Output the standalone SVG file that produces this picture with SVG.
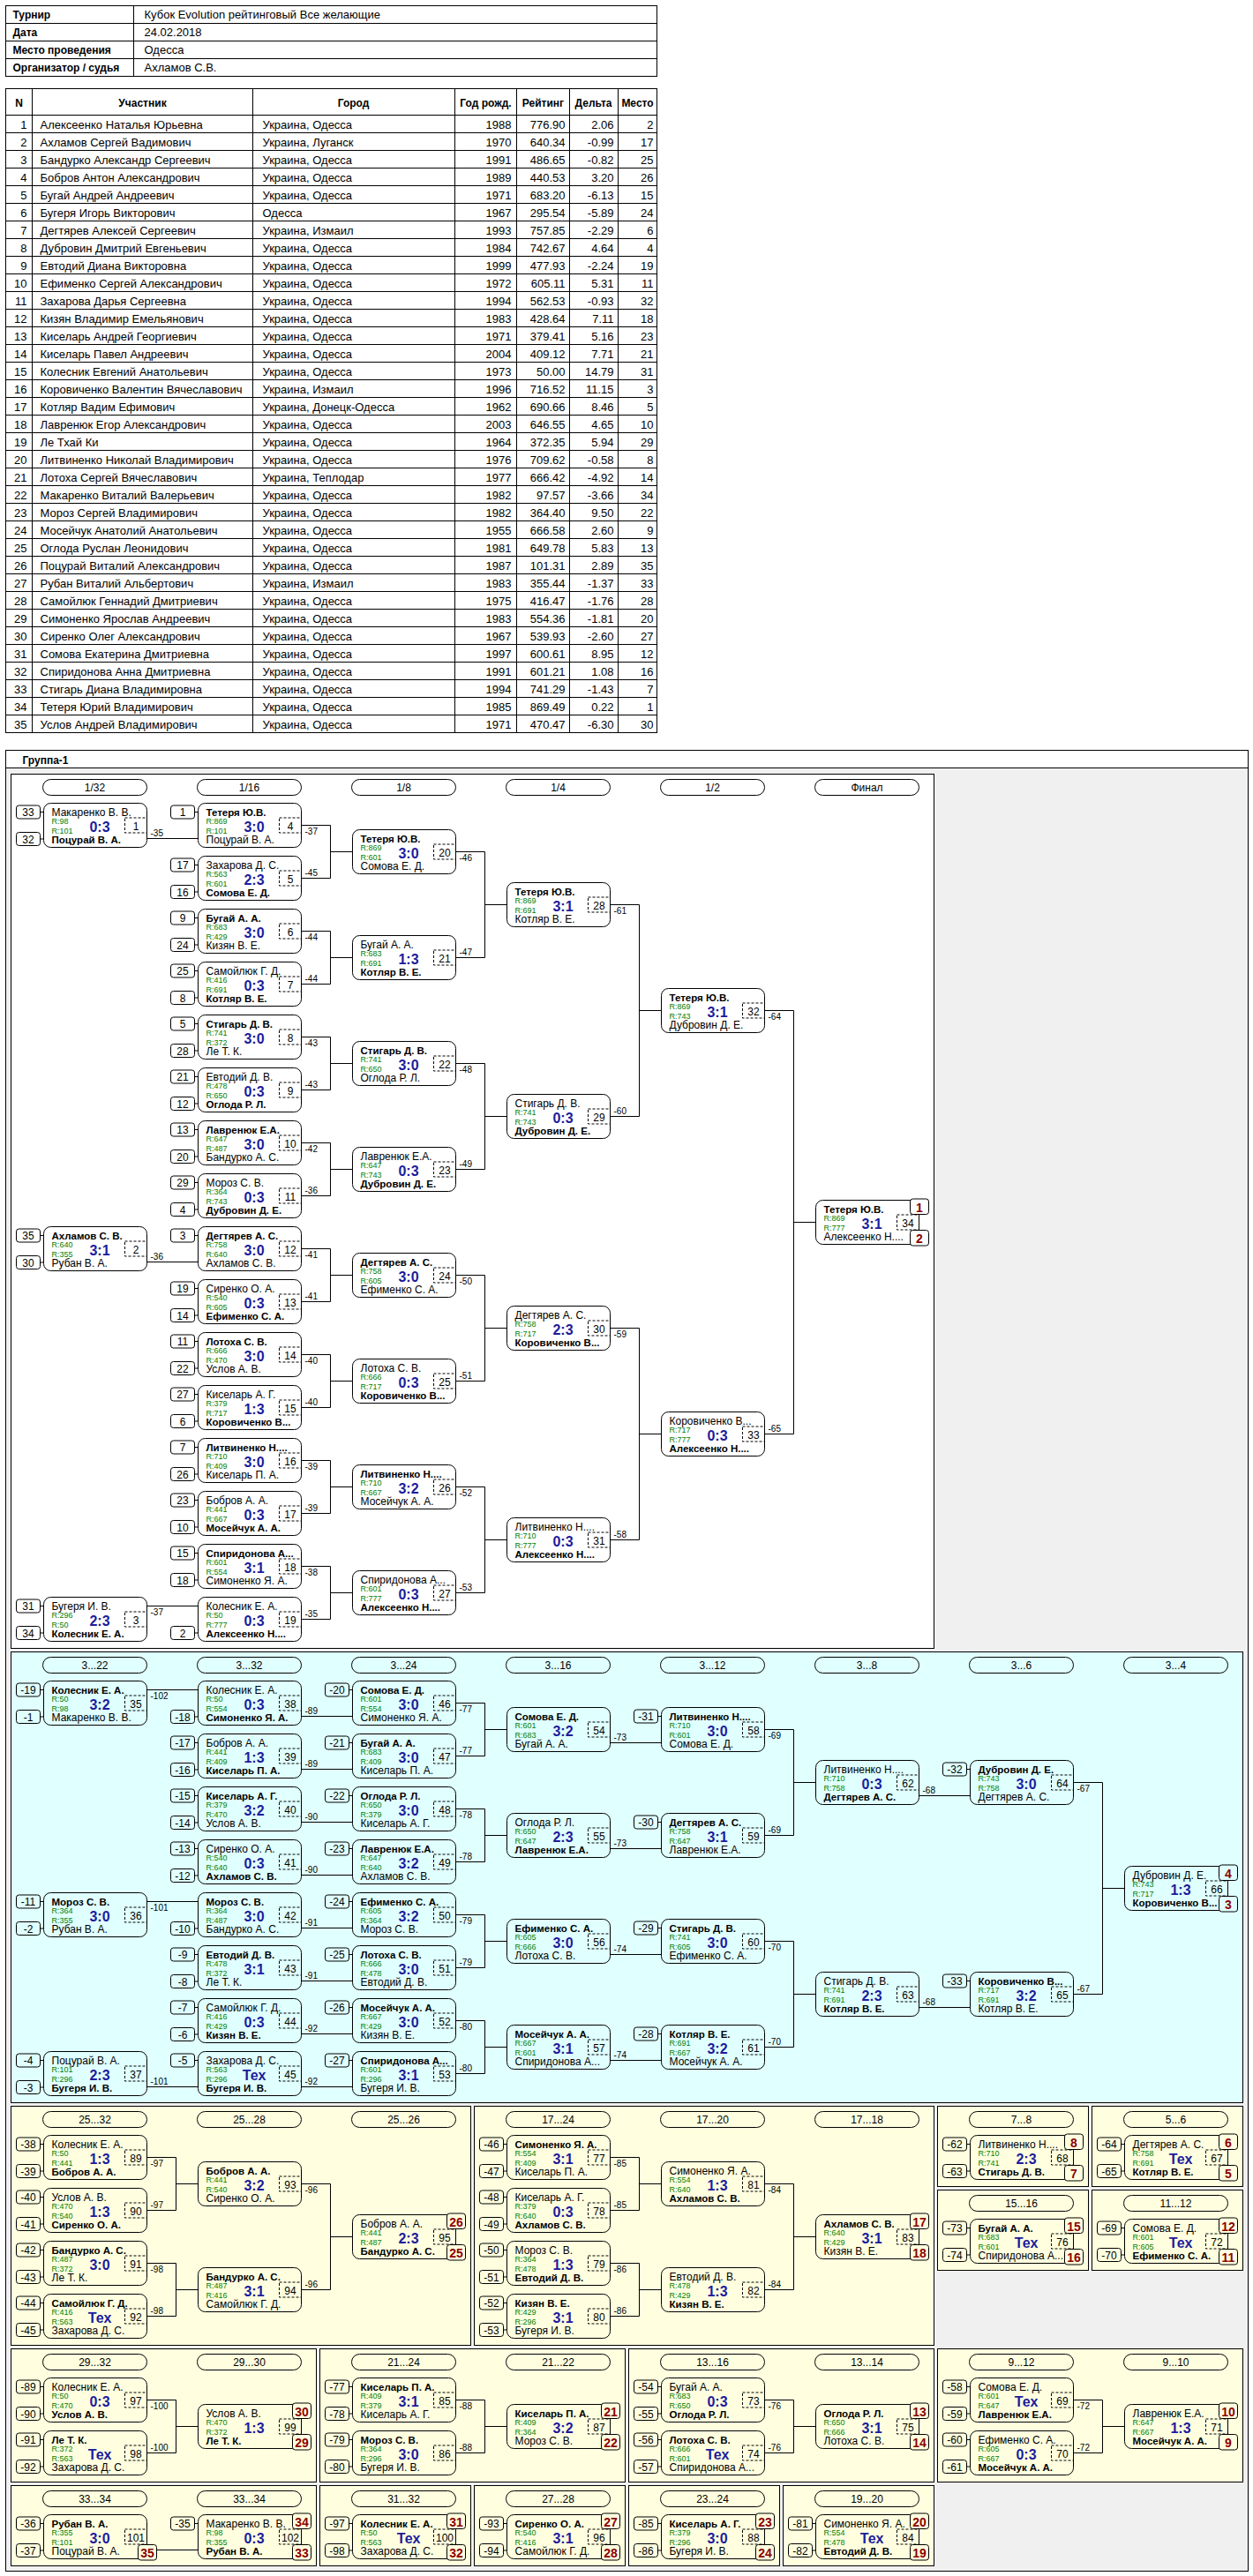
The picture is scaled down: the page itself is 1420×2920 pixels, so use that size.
<svg xmlns="http://www.w3.org/2000/svg" xmlns:xlink="http://www.w3.org/1999/xlink" width="1420" height="2920" viewBox="0 0 1420 2920">
<style>
.tl,.nd,.bx,.pl,.ln,.pn{fill:none;stroke:#000;stroke-width:1}
.mb{fill:none;stroke:#000;stroke-width:1;stroke-dasharray:3 2}
.pb{stroke:#000;stroke-width:1}
.cn path{fill:none;stroke:#000;stroke-width:1}
text{font-family:"Liberation Sans",Arial,sans-serif;font-size:12px;fill:#000}
.t{font-size:13px}
.tb{font-size:12px;font-weight:bold}
.e{text-anchor:end}
.c{text-anchor:middle}
.w{font-weight:bold;font-size:11.5px}
.g{font-size:9px;fill:#008000}
.s{font-size:16px;font-weight:bold;fill:#1c1c9c;text-anchor:middle}
.m,.k,.h{text-anchor:middle}
.l{font-size:10px}
.p{font-size:14px;font-weight:bold;fill:#8b0000;text-anchor:middle}
.pw{fill:#fff}.pc{fill:#e0ffff}.py{fill:#ffffe0}
</style>
<defs>
<g id="N"><rect class="nd" width="117" height="50" rx="8"/><rect class="mb" x="92" y="16.5" width="25" height="17"/></g>
<g id="S1"><rect class="bx" x="-31" y="2.5" width="27" height="15" rx="3"/><path class="ln" d="M-4 10H0"/></g>
<g id="S2"><rect class="bx" x="-31" y="33" width="27" height="15" rx="3"/><path class="ln" d="M-4 40.5H0"/></g>
<rect id="P1" class="pb" x="107" y="-1.5" width="21" height="17.5" rx="3"/>
<rect id="P2" class="pb" x="107" y="34" width="21" height="17.5" rx="3"/>
<rect id="PL" class="pl" x="-1" y="6" width="118" height="18" rx="9"/>
</defs>
<rect x="0" y="0" width="1420" height="2920" fill="#fff"/>
<g transform="translate(0.5,0.5)">
<g id="info">
<rect class="tl" x="6" y="6" width="738" height="80"/>
<path class="tl" d="M6 26H744M6 46H744M6 66H744M151 6V86"/>
<text class="tb" x="14" y="20.5">Турнир</text>
<text class="tb" x="14" y="40.5">Дата</text>
<text class="tb" x="14" y="60.5">Место проведения</text>
<text class="tb" x="14" y="80.5">Организатор / судья</text>
<text class="t" x="163" y="20.5">Кубок Evolution рейтинговый Все желающие</text>
<text class="t" x="163" y="40.5">24.02.2018</text>
<text class="t" x="163" y="60.5">Одесса</text>
<text class="t" x="163" y="80.5">Ахламов С.В.</text>
</g>
<g id="players">
<rect class="tl" x="6" y="100" width="738" height="730"/>
<path class="tl" d="M6 130H744M6 150H744M6 170H744M6 190H744M6 210H744M6 230H744M6 250H744M6 270H744M6 290H744M6 310H744M6 330H744M6 350H744M6 370H744M6 390H744M6 410H744M6 430H744M6 450H744M6 470H744M6 490H744M6 510H744M6 530H744M6 550H744M6 570H744M6 590H744M6 610H744M6 630H744M6 650H744M6 670H744M6 690H744M6 710H744M6 730H744M6 750H744M6 770H744M6 790H744M6 810H744M36 100V830M286 100V830M515 100V830M585 100V830M645 100V830M700 100V830"/>
<text class="tb c" x="21" y="120">N</text>
<text class="tb c" x="161" y="120">Участник</text>
<text class="tb c" x="400" y="120">Город</text>
<text class="tb c" x="550" y="120">Год рожд.</text>
<text class="tb c" x="615" y="120">Рейтинг</text>
<text class="tb c" x="672" y="120">Дельта</text>
<text class="tb c" x="722" y="120">Место</text>
<text class="t e"><tspan x="30" y="145.5">1</tspan><tspan x="30" dy="20">2</tspan><tspan x="30" dy="20">3</tspan><tspan x="30" dy="20">4</tspan><tspan x="30" dy="20">5</tspan><tspan x="30" dy="20">6</tspan><tspan x="30" dy="20">7</tspan><tspan x="30" dy="20">8</tspan><tspan x="30" dy="20">9</tspan><tspan x="30" dy="20">10</tspan><tspan x="30" dy="20">11</tspan><tspan x="30" dy="20">12</tspan><tspan x="30" dy="20">13</tspan><tspan x="30" dy="20">14</tspan><tspan x="30" dy="20">15</tspan><tspan x="30" dy="20">16</tspan><tspan x="30" dy="20">17</tspan><tspan x="30" dy="20">18</tspan><tspan x="30" dy="20">19</tspan><tspan x="30" dy="20">20</tspan><tspan x="30" dy="20">21</tspan><tspan x="30" dy="20">22</tspan><tspan x="30" dy="20">23</tspan><tspan x="30" dy="20">24</tspan><tspan x="30" dy="20">25</tspan><tspan x="30" dy="20">26</tspan><tspan x="30" dy="20">27</tspan><tspan x="30" dy="20">28</tspan><tspan x="30" dy="20">29</tspan><tspan x="30" dy="20">30</tspan><tspan x="30" dy="20">31</tspan><tspan x="30" dy="20">32</tspan><tspan x="30" dy="20">33</tspan><tspan x="30" dy="20">34</tspan><tspan x="30" dy="20">35</tspan></text>
<text class="t"><tspan x="45" y="145.5">Алексеенко Наталья Юрьевна</tspan><tspan x="45" dy="20">Ахламов Сергей Вадимович</tspan><tspan x="45" dy="20">Бандурко Александр Сергеевич</tspan><tspan x="45" dy="20">Бобров Антон Александрович</tspan><tspan x="45" dy="20">Бугай Андрей Андреевич</tspan><tspan x="45" dy="20">Бугеря Игорь Викторович</tspan><tspan x="45" dy="20">Дегтярев Алексей Сергеевич</tspan><tspan x="45" dy="20">Дубровин Дмитрий Евгеньевич</tspan><tspan x="45" dy="20">Евтодий Диана Викторовна</tspan><tspan x="45" dy="20">Ефименко Сергей Александрович</tspan><tspan x="45" dy="20">Захарова Дарья Сергеевна</tspan><tspan x="45" dy="20">Кизян Владимир Емельянович</tspan><tspan x="45" dy="20">Киселарь Андрей Георгиевич</tspan><tspan x="45" dy="20">Киселарь Павел Андреевич</tspan><tspan x="45" dy="20">Колесник Евгений Анатольевич</tspan><tspan x="45" dy="20">Коровиченко Валентин Вячеславович</tspan><tspan x="45" dy="20">Котляр Вадим Ефимович</tspan><tspan x="45" dy="20">Лавренюк Егор Александрович</tspan><tspan x="45" dy="20">Ле Тхай Ки</tspan><tspan x="45" dy="20">Литвиненко Николай Владимирович</tspan><tspan x="45" dy="20">Лотоха Сергей Вячеславович</tspan><tspan x="45" dy="20">Макаренко Виталий Валерьевич</tspan><tspan x="45" dy="20">Мороз Сергей Владимирович</tspan><tspan x="45" dy="20">Мосейчук Анатолий Анатольевич</tspan><tspan x="45" dy="20">Оглода Руслан Леонидович</tspan><tspan x="45" dy="20">Поцурай Виталий Александрович</tspan><tspan x="45" dy="20">Рубан Виталий Альбертович</tspan><tspan x="45" dy="20">Самойлюк Геннадий Дмитриевич</tspan><tspan x="45" dy="20">Симоненко Ярослав Андреевич</tspan><tspan x="45" dy="20">Сиренко Олег Александрович</tspan><tspan x="45" dy="20">Сомова Екатерина Дмитриевна</tspan><tspan x="45" dy="20">Спиридонова Анна Дмитриевна</tspan><tspan x="45" dy="20">Стигарь Диана Владимировна</tspan><tspan x="45" dy="20">Тетеря Юрий Владимирович</tspan><tspan x="45" dy="20">Услов Андрей Владимирович</tspan></text>
<text class="t"><tspan x="297" y="145.5">Украина, Одесса</tspan><tspan x="297" dy="20">Украина, Луганск</tspan><tspan x="297" dy="20">Украина, Одесса</tspan><tspan x="297" dy="20">Украина, Одесса</tspan><tspan x="297" dy="20">Украина, Одесса</tspan><tspan x="297" dy="20">Одесса</tspan><tspan x="297" dy="20">Украина, Измаил</tspan><tspan x="297" dy="20">Украина, Одесса</tspan><tspan x="297" dy="20">Украина, Одесса</tspan><tspan x="297" dy="20">Украина, Одесса</tspan><tspan x="297" dy="20">Украина, Одесса</tspan><tspan x="297" dy="20">Украина, Одесса</tspan><tspan x="297" dy="20">Украина, Одесса</tspan><tspan x="297" dy="20">Украина, Одесса</tspan><tspan x="297" dy="20">Украина, Одесса</tspan><tspan x="297" dy="20">Украина, Измаил</tspan><tspan x="297" dy="20">Украина, Донецк-Одесса</tspan><tspan x="297" dy="20">Украина, Одесса</tspan><tspan x="297" dy="20">Украина, Одесса</tspan><tspan x="297" dy="20">Украина, Одесса</tspan><tspan x="297" dy="20">Украина, Теплодар</tspan><tspan x="297" dy="20">Украина, Одесса</tspan><tspan x="297" dy="20">Украина, Одесса</tspan><tspan x="297" dy="20">Украина, Одесса</tspan><tspan x="297" dy="20">Украина, Одесса</tspan><tspan x="297" dy="20">Украина, Одесса</tspan><tspan x="297" dy="20">Украина, Измаил</tspan><tspan x="297" dy="20">Украина, Одесса</tspan><tspan x="297" dy="20">Украина, Одесса</tspan><tspan x="297" dy="20">Украина, Одесса</tspan><tspan x="297" dy="20">Украина, Одесса</tspan><tspan x="297" dy="20">Украина, Одесса</tspan><tspan x="297" dy="20">Украина, Одесса</tspan><tspan x="297" dy="20">Украина, Одесса</tspan><tspan x="297" dy="20">Украина, Одесса</tspan></text>
<text class="t e"><tspan x="579" y="145.5">1988</tspan><tspan x="579" dy="20">1970</tspan><tspan x="579" dy="20">1991</tspan><tspan x="579" dy="20">1989</tspan><tspan x="579" dy="20">1971</tspan><tspan x="579" dy="20">1967</tspan><tspan x="579" dy="20">1993</tspan><tspan x="579" dy="20">1984</tspan><tspan x="579" dy="20">1999</tspan><tspan x="579" dy="20">1972</tspan><tspan x="579" dy="20">1994</tspan><tspan x="579" dy="20">1983</tspan><tspan x="579" dy="20">1971</tspan><tspan x="579" dy="20">2004</tspan><tspan x="579" dy="20">1973</tspan><tspan x="579" dy="20">1996</tspan><tspan x="579" dy="20">1962</tspan><tspan x="579" dy="20">2003</tspan><tspan x="579" dy="20">1964</tspan><tspan x="579" dy="20">1976</tspan><tspan x="579" dy="20">1977</tspan><tspan x="579" dy="20">1982</tspan><tspan x="579" dy="20">1982</tspan><tspan x="579" dy="20">1955</tspan><tspan x="579" dy="20">1981</tspan><tspan x="579" dy="20">1987</tspan><tspan x="579" dy="20">1983</tspan><tspan x="579" dy="20">1975</tspan><tspan x="579" dy="20">1983</tspan><tspan x="579" dy="20">1967</tspan><tspan x="579" dy="20">1997</tspan><tspan x="579" dy="20">1991</tspan><tspan x="579" dy="20">1994</tspan><tspan x="579" dy="20">1985</tspan><tspan x="579" dy="20">1971</tspan></text>
<text class="t e"><tspan x="640" y="145.5">776.90</tspan><tspan x="640" dy="20">640.34</tspan><tspan x="640" dy="20">486.65</tspan><tspan x="640" dy="20">440.53</tspan><tspan x="640" dy="20">683.20</tspan><tspan x="640" dy="20">295.54</tspan><tspan x="640" dy="20">757.85</tspan><tspan x="640" dy="20">742.67</tspan><tspan x="640" dy="20">477.93</tspan><tspan x="640" dy="20">605.11</tspan><tspan x="640" dy="20">562.53</tspan><tspan x="640" dy="20">428.64</tspan><tspan x="640" dy="20">379.41</tspan><tspan x="640" dy="20">409.12</tspan><tspan x="640" dy="20">50.00</tspan><tspan x="640" dy="20">716.52</tspan><tspan x="640" dy="20">690.66</tspan><tspan x="640" dy="20">646.55</tspan><tspan x="640" dy="20">372.35</tspan><tspan x="640" dy="20">709.62</tspan><tspan x="640" dy="20">666.42</tspan><tspan x="640" dy="20">97.57</tspan><tspan x="640" dy="20">364.40</tspan><tspan x="640" dy="20">666.58</tspan><tspan x="640" dy="20">649.78</tspan><tspan x="640" dy="20">101.31</tspan><tspan x="640" dy="20">355.44</tspan><tspan x="640" dy="20">416.47</tspan><tspan x="640" dy="20">554.36</tspan><tspan x="640" dy="20">539.93</tspan><tspan x="640" dy="20">600.61</tspan><tspan x="640" dy="20">601.21</tspan><tspan x="640" dy="20">741.29</tspan><tspan x="640" dy="20">869.49</tspan><tspan x="640" dy="20">470.47</tspan></text>
<text class="t e"><tspan x="695" y="145.5">2.06</tspan><tspan x="695" dy="20">-0.99</tspan><tspan x="695" dy="20">-0.82</tspan><tspan x="695" dy="20">3.20</tspan><tspan x="695" dy="20">-6.13</tspan><tspan x="695" dy="20">-5.89</tspan><tspan x="695" dy="20">-2.29</tspan><tspan x="695" dy="20">4.64</tspan><tspan x="695" dy="20">-2.24</tspan><tspan x="695" dy="20">5.31</tspan><tspan x="695" dy="20">-0.93</tspan><tspan x="695" dy="20">7.11</tspan><tspan x="695" dy="20">5.16</tspan><tspan x="695" dy="20">7.71</tspan><tspan x="695" dy="20">14.79</tspan><tspan x="695" dy="20">11.15</tspan><tspan x="695" dy="20">8.46</tspan><tspan x="695" dy="20">4.65</tspan><tspan x="695" dy="20">5.94</tspan><tspan x="695" dy="20">-0.58</tspan><tspan x="695" dy="20">-4.92</tspan><tspan x="695" dy="20">-3.66</tspan><tspan x="695" dy="20">9.50</tspan><tspan x="695" dy="20">2.60</tspan><tspan x="695" dy="20">5.83</tspan><tspan x="695" dy="20">2.89</tspan><tspan x="695" dy="20">-1.37</tspan><tspan x="695" dy="20">-1.76</tspan><tspan x="695" dy="20">-1.81</tspan><tspan x="695" dy="20">-2.60</tspan><tspan x="695" dy="20">8.95</tspan><tspan x="695" dy="20">1.08</tspan><tspan x="695" dy="20">-1.43</tspan><tspan x="695" dy="20">0.22</tspan><tspan x="695" dy="20">-6.30</tspan></text>
<text class="t e"><tspan x="740" y="145.5">2</tspan><tspan x="740" dy="20">17</tspan><tspan x="740" dy="20">25</tspan><tspan x="740" dy="20">26</tspan><tspan x="740" dy="20">15</tspan><tspan x="740" dy="20">24</tspan><tspan x="740" dy="20">6</tspan><tspan x="740" dy="20">4</tspan><tspan x="740" dy="20">19</tspan><tspan x="740" dy="20">11</tspan><tspan x="740" dy="20">32</tspan><tspan x="740" dy="20">18</tspan><tspan x="740" dy="20">23</tspan><tspan x="740" dy="20">21</tspan><tspan x="740" dy="20">31</tspan><tspan x="740" dy="20">3</tspan><tspan x="740" dy="20">5</tspan><tspan x="740" dy="20">10</tspan><tspan x="740" dy="20">29</tspan><tspan x="740" dy="20">8</tspan><tspan x="740" dy="20">14</tspan><tspan x="740" dy="20">34</tspan><tspan x="740" dy="20">22</tspan><tspan x="740" dy="20">9</tspan><tspan x="740" dy="20">13</tspan><tspan x="740" dy="20">35</tspan><tspan x="740" dy="20">33</tspan><tspan x="740" dy="20">28</tspan><tspan x="740" dy="20">20</tspan><tspan x="740" dy="20">27</tspan><tspan x="740" dy="20">12</tspan><tspan x="740" dy="20">16</tspan><tspan x="740" dy="20">7</tspan><tspan x="740" dy="20">1</tspan><tspan x="740" dy="20">30</tspan></text>
</g>
<g id="panels">
<rect x="6" y="850" width="1408" height="2064" fill="#f0f0f0" stroke="#000"/>
<rect x="6" y="850" width="1408" height="20" fill="#fff" stroke="#000"/>
<text class="tb" x="25" y="865">Группа-1</text>
<rect class="pn" x="12" y="877" width="1046" height="991" fill="#fff" style="fill:#fff"/>
<rect class="pn" x="12" y="1872" width="1396" height="511" style="fill:#e0ffff"/>
<rect class="pn" x="12" y="2387" width="521" height="271" style="fill:#ffffe0"/>
<rect class="pn" x="537" y="2387" width="521" height="271" style="fill:#ffffe0"/>
<rect class="pn" x="1062" y="2387" width="171" height="91" style="fill:#ffffe0"/>
<rect class="pn" x="1237" y="2387" width="171" height="91" style="fill:#ffffe0"/>
<rect class="pn" x="1062" y="2482" width="171" height="91" style="fill:#ffffe0"/>
<rect class="pn" x="1237" y="2482" width="171" height="91" style="fill:#ffffe0"/>
<rect class="pn" x="12" y="2662" width="346" height="151" style="fill:#ffffe0"/>
<rect class="pn" x="362" y="2662" width="346" height="151" style="fill:#ffffe0"/>
<rect class="pn" x="712" y="2662" width="346" height="151" style="fill:#ffffe0"/>
<rect class="pn" x="1062" y="2662" width="346" height="151" style="fill:#ffffe0"/>
<rect class="pn" x="12" y="2817" width="346" height="91" style="fill:#ffffe0"/>
<rect class="pn" x="362" y="2817" width="171" height="91" style="fill:#ffffe0"/>
<rect class="pn" x="537" y="2817" width="171" height="91" style="fill:#ffffe0"/>
<rect class="pn" x="712" y="2817" width="171" height="91" style="fill:#ffffe0"/>
<rect class="pn" x="887" y="2817" width="171" height="91" style="fill:#ffffe0"/>
</g>
<g id="rounds">
<use href="#PL" x="49" y="877"/><text class="h" x="107" y="896.5">1/32</text>
<use href="#PL" x="224" y="877"/><text class="h" x="282" y="896.5">1/16</text>
<use href="#PL" x="399" y="877"/><text class="h" x="457" y="896.5">1/8</text>
<use href="#PL" x="574" y="877"/><text class="h" x="632" y="896.5">1/4</text>
<use href="#PL" x="749" y="877"/><text class="h" x="807" y="896.5">1/2</text>
<use href="#PL" x="924" y="877"/><text class="h" x="982" y="896.5">Финал</text>
<use href="#PL" x="49" y="1872"/><text class="h" x="107" y="1891.5">3...22</text>
<use href="#PL" x="224" y="1872"/><text class="h" x="282" y="1891.5">3...32</text>
<use href="#PL" x="399" y="1872"/><text class="h" x="457" y="1891.5">3...24</text>
<use href="#PL" x="574" y="1872"/><text class="h" x="632" y="1891.5">3...16</text>
<use href="#PL" x="749" y="1872"/><text class="h" x="807" y="1891.5">3...12</text>
<use href="#PL" x="924" y="1872"/><text class="h" x="982" y="1891.5">3...8</text>
<use href="#PL" x="1099" y="1872"/><text class="h" x="1157" y="1891.5">3...6</text>
<use href="#PL" x="1274" y="1872"/><text class="h" x="1332" y="1891.5">3...4</text>
<use href="#PL" x="49" y="2387"/><text class="h" x="107" y="2406.5">25...32</text>
<use href="#PL" x="224" y="2387"/><text class="h" x="282" y="2406.5">25...28</text>
<use href="#PL" x="399" y="2387"/><text class="h" x="457" y="2406.5">25...26</text>
<use href="#PL" x="574" y="2387"/><text class="h" x="632" y="2406.5">17...24</text>
<use href="#PL" x="749" y="2387"/><text class="h" x="807" y="2406.5">17...20</text>
<use href="#PL" x="924" y="2387"/><text class="h" x="982" y="2406.5">17...18</text>
<use href="#PL" x="1099" y="2387"/><text class="h" x="1157" y="2406.5">7...8</text>
<use href="#PL" x="1274" y="2387"/><text class="h" x="1332" y="2406.5">5...6</text>
<use href="#PL" x="1099" y="2482"/><text class="h" x="1157" y="2501.5">15...16</text>
<use href="#PL" x="1274" y="2482"/><text class="h" x="1332" y="2501.5">11...12</text>
<use href="#PL" x="49" y="2662"/><text class="h" x="107" y="2681.5">29...32</text>
<use href="#PL" x="224" y="2662"/><text class="h" x="282" y="2681.5">29...30</text>
<use href="#PL" x="399" y="2662"/><text class="h" x="457" y="2681.5">21...24</text>
<use href="#PL" x="574" y="2662"/><text class="h" x="632" y="2681.5">21...22</text>
<use href="#PL" x="749" y="2662"/><text class="h" x="807" y="2681.5">13...16</text>
<use href="#PL" x="924" y="2662"/><text class="h" x="982" y="2681.5">13...14</text>
<use href="#PL" x="1099" y="2662"/><text class="h" x="1157" y="2681.5">9...12</text>
<use href="#PL" x="1274" y="2662"/><text class="h" x="1332" y="2681.5">9...10</text>
<use href="#PL" x="49" y="2817"/><text class="h" x="107" y="2836.5">33...34</text>
<use href="#PL" x="224" y="2817"/><text class="h" x="282" y="2836.5">33...34</text>
<use href="#PL" x="399" y="2817"/><text class="h" x="457" y="2836.5">31...32</text>
<use href="#PL" x="574" y="2817"/><text class="h" x="632" y="2836.5">27...28</text>
<use href="#PL" x="749" y="2817"/><text class="h" x="807" y="2836.5">23...24</text>
<use href="#PL" x="924" y="2817"/><text class="h" x="982" y="2836.5">19...20</text>
</g>
<g id="connectors" class="cn">
<path d="M166 950H224M166 1430H224M166 1820H224"/>
<path d="M341 935H374V995H341M374 965H399M341 1055H374V1115H341M374 1085H399M341 1175H374V1235H341M374 1205H399M341 1295H374V1355H341M374 1325H399M341 1415H374V1475H341M374 1445H399M341 1535H374V1595H341M374 1565H399M341 1655H374V1715H341M374 1685H399M341 1775H374V1835H341M374 1805H399"/>
<path d="M516 965H549V1085H516M549 1025H574M516 1205H549V1325H516M549 1265H574M516 1445H549V1565H516M549 1505H574M516 1685H549V1805H516M549 1745H574"/>
<path d="M691 1025H724V1265H691M724 1145H749M691 1505H724V1745H691M724 1625H749"/>
<path d="M866 1145H899V1625H866M899 1385H924"/>
<path d="M166 1915H224M166 2155H224M166 2365H224"/>
<path d="M341 1945H399M341 2005H399M341 2065H399M341 2125H399M341 2185H399M341 2245H399M341 2305H399M341 2365H399"/>
<path d="M516 1930H549V1990H516M549 1960H574M516 2050H549V2110H516M549 2080H574M516 2170H549V2230H516M549 2200H574M516 2290H549V2350H516M549 2320H574"/>
<path d="M691 1975H749M691 2095H749M691 2215H749M691 2335H749"/>
<path d="M866 1960H899V2080H866M899 2020H924M866 2200H899V2320H866M899 2260H924"/>
<path d="M1041 2035H1099M1041 2275H1099"/>
<path d="M1216 2020H1249V2260H1216M1249 2140H1274"/>
<path d="M166 2445H199V2505H166M199 2475H224M166 2565H199V2625H166M199 2595H224M341 2475H374V2595H341M374 2535H399"/>
<path d="M691 2445H724V2505H691M724 2475H749M691 2565H724V2625H691M724 2595H749M866 2475H899V2595H866M899 2535H924"/>
<path d="M166 2720H199V2780H166M199 2750H224M516 2720H549V2780H516M549 2750H574M866 2720H899V2780H866M899 2750H924M1216 2720H1249V2780H1216M1249 2750H1274"/>
<path d="M177 2890H224"/>
</g>
<g id="m1" transform="translate(49,910)"><use href="#N"/><use href="#S1"/><text class="k" x="-17.5" y="14.8">33</text><use href="#S2"/><text class="k" x="-17.5" y="45">32</text><text x="9" y="14.5">Макаренко В. В.</text><text class="g" x="9" y="23">R:98</text><text class="g" x="9" y="34">R:101</text><text class="w" x="9" y="45">Поцурай В. А.</text><text class="s" x="63.5" y="32">0:3</text><text class="m" x="104.5" y="30">1</text><text class="l" x="121" y="37.5">-35</text></g>
<g id="m2" transform="translate(49,1390)"><use href="#N"/><use href="#S1"/><text class="k" x="-17.5" y="14.8">35</text><use href="#S2"/><text class="k" x="-17.5" y="45">30</text><text class="w" x="9" y="14.5">Ахламов С. В.</text><text class="g" x="9" y="23">R:640</text><text class="g" x="9" y="34">R:355</text><text x="9" y="45">Рубан В. А.</text><text class="s" x="63.5" y="32">3:1</text><text class="m" x="104.5" y="30">2</text><text class="l" x="121" y="37.5">-36</text></g>
<g id="m3" transform="translate(49,1810)"><use href="#N"/><use href="#S1"/><text class="k" x="-17.5" y="14.8">31</text><use href="#S2"/><text class="k" x="-17.5" y="45">34</text><text x="9" y="14.5">Бугеря И. В.</text><text class="g" x="9" y="23">R:296</text><text class="g" x="9" y="34">R:50</text><text class="w" x="9" y="45">Колесник Е. А.</text><text class="s" x="63.5" y="32">2:3</text><text class="m" x="104.5" y="30">3</text><text class="l" x="121" y="20.5">-37</text></g>
<g id="m4" transform="translate(224,910)"><use href="#N"/><use href="#S1"/><text class="k" x="-17.5" y="14.8">1</text><text class="w" x="9" y="14.5">Тетеря Ю.В.</text><text class="g" x="9" y="23">R:869</text><text class="g" x="9" y="34">R:101</text><text x="9" y="45">Поцурай В. А.</text><text class="s" x="63.5" y="32">3:0</text><text class="m" x="104.5" y="30">4</text><text class="l" x="121" y="35.5">-37</text></g>
<g id="m5" transform="translate(224,970)"><use href="#N"/><use href="#S1"/><text class="k" x="-17.5" y="14.8">17</text><use href="#S2"/><text class="k" x="-17.5" y="45">16</text><text x="9" y="14.5">Захарова Д. С.</text><text class="g" x="9" y="23">R:563</text><text class="g" x="9" y="34">R:601</text><text class="w" x="9" y="45">Сомова Е. Д.</text><text class="s" x="63.5" y="32">2:3</text><text class="m" x="104.5" y="30">5</text><text class="l" x="121" y="22.5">-45</text></g>
<g id="m6" transform="translate(224,1030)"><use href="#N"/><use href="#S1"/><text class="k" x="-17.5" y="14.8">9</text><use href="#S2"/><text class="k" x="-17.5" y="45">24</text><text class="w" x="9" y="14.5">Бугай А. А.</text><text class="g" x="9" y="23">R:683</text><text class="g" x="9" y="34">R:429</text><text x="9" y="45">Кизян В. Е.</text><text class="s" x="63.5" y="32">3:0</text><text class="m" x="104.5" y="30">6</text><text class="l" x="121" y="35.5">-44</text></g>
<g id="m7" transform="translate(224,1090)"><use href="#N"/><use href="#S1"/><text class="k" x="-17.5" y="14.8">25</text><use href="#S2"/><text class="k" x="-17.5" y="45">8</text><text x="9" y="14.5">Самойлюк Г. Д.</text><text class="g" x="9" y="23">R:416</text><text class="g" x="9" y="34">R:691</text><text class="w" x="9" y="45">Котляр В. Е.</text><text class="s" x="63.5" y="32">0:3</text><text class="m" x="104.5" y="30">7</text><text class="l" x="121" y="22.5">-44</text></g>
<g id="m8" transform="translate(224,1150)"><use href="#N"/><use href="#S1"/><text class="k" x="-17.5" y="14.8">5</text><use href="#S2"/><text class="k" x="-17.5" y="45">28</text><text class="w" x="9" y="14.5">Стигарь Д. В.</text><text class="g" x="9" y="23">R:741</text><text class="g" x="9" y="34">R:372</text><text x="9" y="45">Ле Т. К.</text><text class="s" x="63.5" y="32">3:0</text><text class="m" x="104.5" y="30">8</text><text class="l" x="121" y="35.5">-43</text></g>
<g id="m9" transform="translate(224,1210)"><use href="#N"/><use href="#S1"/><text class="k" x="-17.5" y="14.8">21</text><use href="#S2"/><text class="k" x="-17.5" y="45">12</text><text x="9" y="14.5">Евтодий Д. В.</text><text class="g" x="9" y="23">R:478</text><text class="g" x="9" y="34">R:650</text><text class="w" x="9" y="45">Оглода Р. Л.</text><text class="s" x="63.5" y="32">0:3</text><text class="m" x="104.5" y="30">9</text><text class="l" x="121" y="22.5">-43</text></g>
<g id="m10" transform="translate(224,1270)"><use href="#N"/><use href="#S1"/><text class="k" x="-17.5" y="14.8">13</text><use href="#S2"/><text class="k" x="-17.5" y="45">20</text><text class="w" x="9" y="14.5">Лавренюк Е.А.</text><text class="g" x="9" y="23">R:647</text><text class="g" x="9" y="34">R:487</text><text x="9" y="45">Бандурко А. С.</text><text class="s" x="63.5" y="32">3:0</text><text class="m" x="104.5" y="30">10</text><text class="l" x="121" y="35.5">-42</text></g>
<g id="m11" transform="translate(224,1330)"><use href="#N"/><use href="#S1"/><text class="k" x="-17.5" y="14.8">29</text><use href="#S2"/><text class="k" x="-17.5" y="45">4</text><text x="9" y="14.5">Мороз С. В.</text><text class="g" x="9" y="23">R:364</text><text class="g" x="9" y="34">R:743</text><text class="w" x="9" y="45">Дубровин Д. Е.</text><text class="s" x="63.5" y="32">0:3</text><text class="m" x="104.5" y="30">11</text><text class="l" x="121" y="22.5">-36</text></g>
<g id="m12" transform="translate(224,1390)"><use href="#N"/><use href="#S1"/><text class="k" x="-17.5" y="14.8">3</text><text class="w" x="9" y="14.5">Дегтярев А. С.</text><text class="g" x="9" y="23">R:758</text><text class="g" x="9" y="34">R:640</text><text x="9" y="45">Ахламов С. В.</text><text class="s" x="63.5" y="32">3:0</text><text class="m" x="104.5" y="30">12</text><text class="l" x="121" y="35.5">-41</text></g>
<g id="m13" transform="translate(224,1450)"><use href="#N"/><use href="#S1"/><text class="k" x="-17.5" y="14.8">19</text><use href="#S2"/><text class="k" x="-17.5" y="45">14</text><text x="9" y="14.5">Сиренко О. А.</text><text class="g" x="9" y="23">R:540</text><text class="g" x="9" y="34">R:605</text><text class="w" x="9" y="45">Ефименко С. А.</text><text class="s" x="63.5" y="32">0:3</text><text class="m" x="104.5" y="30">13</text><text class="l" x="121" y="22.5">-41</text></g>
<g id="m14" transform="translate(224,1510)"><use href="#N"/><use href="#S1"/><text class="k" x="-17.5" y="14.8">11</text><use href="#S2"/><text class="k" x="-17.5" y="45">22</text><text class="w" x="9" y="14.5">Лотоха С. В.</text><text class="g" x="9" y="23">R:666</text><text class="g" x="9" y="34">R:470</text><text x="9" y="45">Услов А. В.</text><text class="s" x="63.5" y="32">3:0</text><text class="m" x="104.5" y="30">14</text><text class="l" x="121" y="35.5">-40</text></g>
<g id="m15" transform="translate(224,1570)"><use href="#N"/><use href="#S1"/><text class="k" x="-17.5" y="14.8">27</text><use href="#S2"/><text class="k" x="-17.5" y="45">6</text><text x="9" y="14.5">Киселарь А. Г.</text><text class="g" x="9" y="23">R:379</text><text class="g" x="9" y="34">R:717</text><text class="w" x="9" y="45">Коровиченко В...</text><text class="s" x="63.5" y="32">1:3</text><text class="m" x="104.5" y="30">15</text><text class="l" x="121" y="22.5">-40</text></g>
<g id="m16" transform="translate(224,1630)"><use href="#N"/><use href="#S1"/><text class="k" x="-17.5" y="14.8">7</text><use href="#S2"/><text class="k" x="-17.5" y="45">26</text><text class="w" x="9" y="14.5">Литвиненко Н....</text><text class="g" x="9" y="23">R:710</text><text class="g" x="9" y="34">R:409</text><text x="9" y="45">Киселарь П. А.</text><text class="s" x="63.5" y="32">3:0</text><text class="m" x="104.5" y="30">16</text><text class="l" x="121" y="35.5">-39</text></g>
<g id="m17" transform="translate(224,1690)"><use href="#N"/><use href="#S1"/><text class="k" x="-17.5" y="14.8">23</text><use href="#S2"/><text class="k" x="-17.5" y="45">10</text><text x="9" y="14.5">Бобров А. А.</text><text class="g" x="9" y="23">R:441</text><text class="g" x="9" y="34">R:667</text><text class="w" x="9" y="45">Мосейчук А. А.</text><text class="s" x="63.5" y="32">0:3</text><text class="m" x="104.5" y="30">17</text><text class="l" x="121" y="22.5">-39</text></g>
<g id="m18" transform="translate(224,1750)"><use href="#N"/><use href="#S1"/><text class="k" x="-17.5" y="14.8">15</text><use href="#S2"/><text class="k" x="-17.5" y="45">18</text><text class="w" x="9" y="14.5">Спиридонова А...</text><text class="g" x="9" y="23">R:601</text><text class="g" x="9" y="34">R:554</text><text x="9" y="45">Симоненко Я. А.</text><text class="s" x="63.5" y="32">3:1</text><text class="m" x="104.5" y="30">18</text><text class="l" x="121" y="35.5">-38</text></g>
<g id="m19" transform="translate(224,1810)"><use href="#N"/><use href="#S2"/><text class="k" x="-17.5" y="45">2</text><text x="9" y="14.5">Колесник Е. А.</text><text class="g" x="9" y="23">R:50</text><text class="g" x="9" y="34">R:777</text><text class="w" x="9" y="45">Алексеенко Н....</text><text class="s" x="63.5" y="32">0:3</text><text class="m" x="104.5" y="30">19</text><text class="l" x="121" y="22.5">-35</text></g>
<g id="m20" transform="translate(399,940)"><use href="#N"/><text class="w" x="9" y="14.5">Тетеря Ю.В.</text><text class="g" x="9" y="23">R:869</text><text class="g" x="9" y="34">R:601</text><text x="9" y="45">Сомова Е. Д.</text><text class="s" x="63.5" y="32">3:0</text><text class="m" x="104.5" y="30">20</text><text class="l" x="121" y="35.5">-46</text></g>
<g id="m21" transform="translate(399,1060)"><use href="#N"/><text x="9" y="14.5">Бугай А. А.</text><text class="g" x="9" y="23">R:683</text><text class="g" x="9" y="34">R:691</text><text class="w" x="9" y="45">Котляр В. Е.</text><text class="s" x="63.5" y="32">1:3</text><text class="m" x="104.5" y="30">21</text><text class="l" x="121" y="22.5">-47</text></g>
<g id="m22" transform="translate(399,1180)"><use href="#N"/><text class="w" x="9" y="14.5">Стигарь Д. В.</text><text class="g" x="9" y="23">R:741</text><text class="g" x="9" y="34">R:650</text><text x="9" y="45">Оглода Р. Л.</text><text class="s" x="63.5" y="32">3:0</text><text class="m" x="104.5" y="30">22</text><text class="l" x="121" y="35.5">-48</text></g>
<g id="m23" transform="translate(399,1300)"><use href="#N"/><text x="9" y="14.5">Лавренюк Е.А.</text><text class="g" x="9" y="23">R:647</text><text class="g" x="9" y="34">R:743</text><text class="w" x="9" y="45">Дубровин Д. Е.</text><text class="s" x="63.5" y="32">0:3</text><text class="m" x="104.5" y="30">23</text><text class="l" x="121" y="22.5">-49</text></g>
<g id="m24" transform="translate(399,1420)"><use href="#N"/><text class="w" x="9" y="14.5">Дегтярев А. С.</text><text class="g" x="9" y="23">R:758</text><text class="g" x="9" y="34">R:605</text><text x="9" y="45">Ефименко С. А.</text><text class="s" x="63.5" y="32">3:0</text><text class="m" x="104.5" y="30">24</text><text class="l" x="121" y="35.5">-50</text></g>
<g id="m25" transform="translate(399,1540)"><use href="#N"/><text x="9" y="14.5">Лотоха С. В.</text><text class="g" x="9" y="23">R:666</text><text class="g" x="9" y="34">R:717</text><text class="w" x="9" y="45">Коровиченко В...</text><text class="s" x="63.5" y="32">0:3</text><text class="m" x="104.5" y="30">25</text><text class="l" x="121" y="22.5">-51</text></g>
<g id="m26" transform="translate(399,1660)"><use href="#N"/><text class="w" x="9" y="14.5">Литвиненко Н....</text><text class="g" x="9" y="23">R:710</text><text class="g" x="9" y="34">R:667</text><text x="9" y="45">Мосейчук А. А.</text><text class="s" x="63.5" y="32">3:2</text><text class="m" x="104.5" y="30">26</text><text class="l" x="121" y="35.5">-52</text></g>
<g id="m27" transform="translate(399,1780)"><use href="#N"/><text x="9" y="14.5">Спиридонова А...</text><text class="g" x="9" y="23">R:601</text><text class="g" x="9" y="34">R:777</text><text class="w" x="9" y="45">Алексеенко Н....</text><text class="s" x="63.5" y="32">0:3</text><text class="m" x="104.5" y="30">27</text><text class="l" x="121" y="22.5">-53</text></g>
<g id="m28" transform="translate(574,1000)"><use href="#N"/><text class="w" x="9" y="14.5">Тетеря Ю.В.</text><text class="g" x="9" y="23">R:869</text><text class="g" x="9" y="34">R:691</text><text x="9" y="45">Котляр В. Е.</text><text class="s" x="63.5" y="32">3:1</text><text class="m" x="104.5" y="30">28</text><text class="l" x="121" y="35.5">-61</text></g>
<g id="m29" transform="translate(574,1240)"><use href="#N"/><text x="9" y="14.5">Стигарь Д. В.</text><text class="g" x="9" y="23">R:741</text><text class="g" x="9" y="34">R:743</text><text class="w" x="9" y="45">Дубровин Д. Е.</text><text class="s" x="63.5" y="32">0:3</text><text class="m" x="104.5" y="30">29</text><text class="l" x="121" y="22.5">-60</text></g>
<g id="m30" transform="translate(574,1480)"><use href="#N"/><text x="9" y="14.5">Дегтярев А. С.</text><text class="g" x="9" y="23">R:758</text><text class="g" x="9" y="34">R:717</text><text class="w" x="9" y="45">Коровиченко В...</text><text class="s" x="63.5" y="32">2:3</text><text class="m" x="104.5" y="30">30</text><text class="l" x="121" y="35.5">-59</text></g>
<g id="m31" transform="translate(574,1720)"><use href="#N"/><text x="9" y="14.5">Литвиненко Н....</text><text class="g" x="9" y="23">R:710</text><text class="g" x="9" y="34">R:777</text><text class="w" x="9" y="45">Алексеенко Н....</text><text class="s" x="63.5" y="32">0:3</text><text class="m" x="104.5" y="30">31</text><text class="l" x="121" y="22.5">-58</text></g>
<g id="m32" transform="translate(749,1120)"><use href="#N"/><text class="w" x="9" y="14.5">Тетеря Ю.В.</text><text class="g" x="9" y="23">R:869</text><text class="g" x="9" y="34">R:743</text><text x="9" y="45">Дубровин Д. Е.</text><text class="s" x="63.5" y="32">3:1</text><text class="m" x="104.5" y="30">32</text><text class="l" x="121" y="35.5">-64</text></g>
<g id="m33" transform="translate(749,1600)"><use href="#N"/><text x="9" y="14.5">Коровиченко В...</text><text class="g" x="9" y="23">R:717</text><text class="g" x="9" y="34">R:777</text><text class="w" x="9" y="45">Алексеенко Н....</text><text class="s" x="63.5" y="32">0:3</text><text class="m" x="104.5" y="30">33</text><text class="l" x="121" y="22.5">-65</text></g>
<g id="m34" transform="translate(924,1360)"><use href="#N"/><use href="#P1" class="pw"/><text class="p" x="117.5" y="13">1</text><use href="#P2" class="pw"/><text class="p" x="117.5" y="48">2</text><text class="w" x="9" y="14.5">Тетеря Ю.В.</text><text class="g" x="9" y="23">R:869</text><text class="g" x="9" y="34">R:777</text><text x="9" y="45">Алексеенко Н....</text><text class="s" x="63.5" y="32">3:1</text><text class="m" x="104.5" y="30">34</text></g>
<g id="c35" transform="translate(49,1905)"><use href="#N"/><use href="#S1"/><text class="k" x="-17.5" y="14.8">-19</text><use href="#S2"/><text class="k" x="-17.5" y="45">-1</text><text class="w" x="9" y="14.5">Колесник Е. А.</text><text class="g" x="9" y="23">R:50</text><text class="g" x="9" y="34">R:98</text><text x="9" y="45">Макаренко В. В.</text><text class="s" x="63.5" y="32">3:2</text><text class="m" x="104.5" y="30">35</text><text class="l" x="121" y="20.5">-102</text></g>
<g id="c36" transform="translate(49,2145)"><use href="#N"/><use href="#S1"/><text class="k" x="-17.5" y="14.8">-11</text><use href="#S2"/><text class="k" x="-17.5" y="45">-2</text><text class="w" x="9" y="14.5">Мороз С. В.</text><text class="g" x="9" y="23">R:364</text><text class="g" x="9" y="34">R:355</text><text x="9" y="45">Рубан В. А.</text><text class="s" x="63.5" y="32">3:0</text><text class="m" x="104.5" y="30">36</text><text class="l" x="121" y="20.5">-101</text></g>
<g id="c37" transform="translate(49,2325)"><use href="#N"/><use href="#S1"/><text class="k" x="-17.5" y="14.8">-4</text><use href="#S2"/><text class="k" x="-17.5" y="45">-3</text><text x="9" y="14.5">Поцурай В. А.</text><text class="g" x="9" y="23">R:101</text><text class="g" x="9" y="34">R:296</text><text class="w" x="9" y="45">Бугеря И. В.</text><text class="s" x="63.5" y="32">2:3</text><text class="m" x="104.5" y="30">37</text><text class="l" x="121" y="37.5">-101</text></g>
<g id="c38" transform="translate(224,1905)"><use href="#N"/><use href="#S2"/><text class="k" x="-17.5" y="45">-18</text><text x="9" y="14.5">Колесник Е. А.</text><text class="g" x="9" y="23">R:50</text><text class="g" x="9" y="34">R:554</text><text class="w" x="9" y="45">Симоненко Я. А.</text><text class="s" x="63.5" y="32">0:3</text><text class="m" x="104.5" y="30">38</text><text class="l" x="121" y="37.5">-89</text></g>
<g id="c39" transform="translate(224,1965)"><use href="#N"/><use href="#S1"/><text class="k" x="-17.5" y="14.8">-17</text><use href="#S2"/><text class="k" x="-17.5" y="45">-16</text><text x="9" y="14.5">Бобров А. А.</text><text class="g" x="9" y="23">R:441</text><text class="g" x="9" y="34">R:409</text><text class="w" x="9" y="45">Киселарь П. А.</text><text class="s" x="63.5" y="32">1:3</text><text class="m" x="104.5" y="30">39</text><text class="l" x="121" y="37.5">-89</text></g>
<g id="c40" transform="translate(224,2025)"><use href="#N"/><use href="#S1"/><text class="k" x="-17.5" y="14.8">-15</text><use href="#S2"/><text class="k" x="-17.5" y="45">-14</text><text class="w" x="9" y="14.5">Киселарь А. Г.</text><text class="g" x="9" y="23">R:379</text><text class="g" x="9" y="34">R:470</text><text x="9" y="45">Услов А. В.</text><text class="s" x="63.5" y="32">3:2</text><text class="m" x="104.5" y="30">40</text><text class="l" x="121" y="37.5">-90</text></g>
<g id="c41" transform="translate(224,2085)"><use href="#N"/><use href="#S1"/><text class="k" x="-17.5" y="14.8">-13</text><use href="#S2"/><text class="k" x="-17.5" y="45">-12</text><text x="9" y="14.5">Сиренко О. А.</text><text class="g" x="9" y="23">R:540</text><text class="g" x="9" y="34">R:640</text><text class="w" x="9" y="45">Ахламов С. В.</text><text class="s" x="63.5" y="32">0:3</text><text class="m" x="104.5" y="30">41</text><text class="l" x="121" y="37.5">-90</text></g>
<g id="c42" transform="translate(224,2145)"><use href="#N"/><use href="#S2"/><text class="k" x="-17.5" y="45">-10</text><text class="w" x="9" y="14.5">Мороз С. В.</text><text class="g" x="9" y="23">R:364</text><text class="g" x="9" y="34">R:487</text><text x="9" y="45">Бандурко А. С.</text><text class="s" x="63.5" y="32">3:0</text><text class="m" x="104.5" y="30">42</text><text class="l" x="121" y="37.5">-91</text></g>
<g id="c43" transform="translate(224,2205)"><use href="#N"/><use href="#S1"/><text class="k" x="-17.5" y="14.8">-9</text><use href="#S2"/><text class="k" x="-17.5" y="45">-8</text><text class="w" x="9" y="14.5">Евтодий Д. В.</text><text class="g" x="9" y="23">R:478</text><text class="g" x="9" y="34">R:372</text><text x="9" y="45">Ле Т. К.</text><text class="s" x="63.5" y="32">3:1</text><text class="m" x="104.5" y="30">43</text><text class="l" x="121" y="37.5">-91</text></g>
<g id="c44" transform="translate(224,2265)"><use href="#N"/><use href="#S1"/><text class="k" x="-17.5" y="14.8">-7</text><use href="#S2"/><text class="k" x="-17.5" y="45">-6</text><text x="9" y="14.5">Самойлюк Г. Д.</text><text class="g" x="9" y="23">R:416</text><text class="g" x="9" y="34">R:429</text><text class="w" x="9" y="45">Кизян В. Е.</text><text class="s" x="63.5" y="32">0:3</text><text class="m" x="104.5" y="30">44</text><text class="l" x="121" y="37.5">-92</text></g>
<g id="c45" transform="translate(224,2325)"><use href="#N"/><use href="#S1"/><text class="k" x="-17.5" y="14.8">-5</text><text x="9" y="14.5">Захарова Д. С.</text><text class="g" x="9" y="23">R:563</text><text class="g" x="9" y="34">R:296</text><text class="w" x="9" y="45">Бугеря И. В.</text><text class="s" x="63.5" y="32">Тех</text><text class="m" x="104.5" y="30">45</text><text class="l" x="121" y="37.5">-92</text></g>
<g id="c46" transform="translate(399,1905)"><use href="#N"/><use href="#S1"/><text class="k" x="-17.5" y="14.8">-20</text><text class="w" x="9" y="14.5">Сомова Е. Д.</text><text class="g" x="9" y="23">R:601</text><text class="g" x="9" y="34">R:554</text><text x="9" y="45">Симоненко Я. А.</text><text class="s" x="63.5" y="32">3:0</text><text class="m" x="104.5" y="30">46</text><text class="l" x="121" y="35.5">-77</text></g>
<g id="c47" transform="translate(399,1965)"><use href="#N"/><use href="#S1"/><text class="k" x="-17.5" y="14.8">-21</text><text class="w" x="9" y="14.5">Бугай А. А.</text><text class="g" x="9" y="23">R:683</text><text class="g" x="9" y="34">R:409</text><text x="9" y="45">Киселарь П. А.</text><text class="s" x="63.5" y="32">3:0</text><text class="m" x="104.5" y="30">47</text><text class="l" x="121" y="22.5">-77</text></g>
<g id="c48" transform="translate(399,2025)"><use href="#N"/><use href="#S1"/><text class="k" x="-17.5" y="14.8">-22</text><text class="w" x="9" y="14.5">Оглода Р. Л.</text><text class="g" x="9" y="23">R:650</text><text class="g" x="9" y="34">R:379</text><text x="9" y="45">Киселарь А. Г.</text><text class="s" x="63.5" y="32">3:0</text><text class="m" x="104.5" y="30">48</text><text class="l" x="121" y="35.5">-78</text></g>
<g id="c49" transform="translate(399,2085)"><use href="#N"/><use href="#S1"/><text class="k" x="-17.5" y="14.8">-23</text><text class="w" x="9" y="14.5">Лавренюк Е.А.</text><text class="g" x="9" y="23">R:647</text><text class="g" x="9" y="34">R:640</text><text x="9" y="45">Ахламов С. В.</text><text class="s" x="63.5" y="32">3:2</text><text class="m" x="104.5" y="30">49</text><text class="l" x="121" y="22.5">-78</text></g>
<g id="c50" transform="translate(399,2145)"><use href="#N"/><use href="#S1"/><text class="k" x="-17.5" y="14.8">-24</text><text class="w" x="9" y="14.5">Ефименко С. А.</text><text class="g" x="9" y="23">R:605</text><text class="g" x="9" y="34">R:364</text><text x="9" y="45">Мороз С. В.</text><text class="s" x="63.5" y="32">3:2</text><text class="m" x="104.5" y="30">50</text><text class="l" x="121" y="35.5">-79</text></g>
<g id="c51" transform="translate(399,2205)"><use href="#N"/><use href="#S1"/><text class="k" x="-17.5" y="14.8">-25</text><text class="w" x="9" y="14.5">Лотоха С. В.</text><text class="g" x="9" y="23">R:666</text><text class="g" x="9" y="34">R:478</text><text x="9" y="45">Евтодий Д. В.</text><text class="s" x="63.5" y="32">3:0</text><text class="m" x="104.5" y="30">51</text><text class="l" x="121" y="22.5">-79</text></g>
<g id="c52" transform="translate(399,2265)"><use href="#N"/><use href="#S1"/><text class="k" x="-17.5" y="14.8">-26</text><text class="w" x="9" y="14.5">Мосейчук А. А.</text><text class="g" x="9" y="23">R:667</text><text class="g" x="9" y="34">R:429</text><text x="9" y="45">Кизян В. Е.</text><text class="s" x="63.5" y="32">3:0</text><text class="m" x="104.5" y="30">52</text><text class="l" x="121" y="35.5">-80</text></g>
<g id="c53" transform="translate(399,2325)"><use href="#N"/><use href="#S1"/><text class="k" x="-17.5" y="14.8">-27</text><text class="w" x="9" y="14.5">Спиридонова А...</text><text class="g" x="9" y="23">R:601</text><text class="g" x="9" y="34">R:296</text><text x="9" y="45">Бугеря И. В.</text><text class="s" x="63.5" y="32">3:1</text><text class="m" x="104.5" y="30">53</text><text class="l" x="121" y="22.5">-80</text></g>
<g id="c54" transform="translate(574,1935)"><use href="#N"/><text class="w" x="9" y="14.5">Сомова Е. Д.</text><text class="g" x="9" y="23">R:601</text><text class="g" x="9" y="34">R:683</text><text x="9" y="45">Бугай А. А.</text><text class="s" x="63.5" y="32">3:2</text><text class="m" x="104.5" y="30">54</text><text class="l" x="121" y="37.5">-73</text></g>
<g id="c55" transform="translate(574,2055)"><use href="#N"/><text x="9" y="14.5">Оглода Р. Л.</text><text class="g" x="9" y="23">R:650</text><text class="g" x="9" y="34">R:647</text><text class="w" x="9" y="45">Лавренюк Е.А.</text><text class="s" x="63.5" y="32">2:3</text><text class="m" x="104.5" y="30">55</text><text class="l" x="121" y="37.5">-73</text></g>
<g id="c56" transform="translate(574,2175)"><use href="#N"/><text class="w" x="9" y="14.5">Ефименко С. А.</text><text class="g" x="9" y="23">R:605</text><text class="g" x="9" y="34">R:666</text><text x="9" y="45">Лотоха С. В.</text><text class="s" x="63.5" y="32">3:0</text><text class="m" x="104.5" y="30">56</text><text class="l" x="121" y="37.5">-74</text></g>
<g id="c57" transform="translate(574,2295)"><use href="#N"/><text class="w" x="9" y="14.5">Мосейчук А. А.</text><text class="g" x="9" y="23">R:667</text><text class="g" x="9" y="34">R:601</text><text x="9" y="45">Спиридонова А...</text><text class="s" x="63.5" y="32">3:1</text><text class="m" x="104.5" y="30">57</text><text class="l" x="121" y="37.5">-74</text></g>
<g id="c58" transform="translate(749,1935)"><use href="#N"/><use href="#S1"/><text class="k" x="-17.5" y="14.8">-31</text><text class="w" x="9" y="14.5">Литвиненко Н....</text><text class="g" x="9" y="23">R:710</text><text class="g" x="9" y="34">R:601</text><text x="9" y="45">Сомова Е. Д.</text><text class="s" x="63.5" y="32">3:0</text><text class="m" x="104.5" y="30">58</text><text class="l" x="121" y="35.5">-69</text></g>
<g id="c59" transform="translate(749,2055)"><use href="#N"/><use href="#S1"/><text class="k" x="-17.5" y="14.8">-30</text><text class="w" x="9" y="14.5">Дегтярев А. С.</text><text class="g" x="9" y="23">R:758</text><text class="g" x="9" y="34">R:647</text><text x="9" y="45">Лавренюк Е.А.</text><text class="s" x="63.5" y="32">3:1</text><text class="m" x="104.5" y="30">59</text><text class="l" x="121" y="22.5">-69</text></g>
<g id="c60" transform="translate(749,2175)"><use href="#N"/><use href="#S1"/><text class="k" x="-17.5" y="14.8">-29</text><text class="w" x="9" y="14.5">Стигарь Д. В.</text><text class="g" x="9" y="23">R:741</text><text class="g" x="9" y="34">R:605</text><text x="9" y="45">Ефименко С. А.</text><text class="s" x="63.5" y="32">3:0</text><text class="m" x="104.5" y="30">60</text><text class="l" x="121" y="35.5">-70</text></g>
<g id="c61" transform="translate(749,2295)"><use href="#N"/><use href="#S1"/><text class="k" x="-17.5" y="14.8">-28</text><text class="w" x="9" y="14.5">Котляр В. Е.</text><text class="g" x="9" y="23">R:691</text><text class="g" x="9" y="34">R:667</text><text x="9" y="45">Мосейчук А. А.</text><text class="s" x="63.5" y="32">3:2</text><text class="m" x="104.5" y="30">61</text><text class="l" x="121" y="22.5">-70</text></g>
<g id="c62" transform="translate(924,1995)"><use href="#N"/><text x="9" y="14.5">Литвиненко Н....</text><text class="g" x="9" y="23">R:710</text><text class="g" x="9" y="34">R:758</text><text class="w" x="9" y="45">Дегтярев А. С.</text><text class="s" x="63.5" y="32">0:3</text><text class="m" x="104.5" y="30">62</text><text class="l" x="121" y="37.5">-68</text></g>
<g id="c63" transform="translate(924,2235)"><use href="#N"/><text x="9" y="14.5">Стигарь Д. В.</text><text class="g" x="9" y="23">R:741</text><text class="g" x="9" y="34">R:691</text><text class="w" x="9" y="45">Котляр В. Е.</text><text class="s" x="63.5" y="32">2:3</text><text class="m" x="104.5" y="30">63</text><text class="l" x="121" y="37.5">-68</text></g>
<g id="c64" transform="translate(1099,1995)"><use href="#N"/><use href="#S1"/><text class="k" x="-17.5" y="14.8">-32</text><text class="w" x="9" y="14.5">Дубровин Д. Е.</text><text class="g" x="9" y="23">R:743</text><text class="g" x="9" y="34">R:758</text><text x="9" y="45">Дегтярев А. С.</text><text class="s" x="63.5" y="32">3:0</text><text class="m" x="104.5" y="30">64</text><text class="l" x="121" y="35.5">-67</text></g>
<g id="c65" transform="translate(1099,2235)"><use href="#N"/><use href="#S1"/><text class="k" x="-17.5" y="14.8">-33</text><text class="w" x="9" y="14.5">Коровиченко В...</text><text class="g" x="9" y="23">R:717</text><text class="g" x="9" y="34">R:691</text><text x="9" y="45">Котляр В. Е.</text><text class="s" x="63.5" y="32">3:2</text><text class="m" x="104.5" y="30">65</text><text class="l" x="121" y="22.5">-67</text></g>
<g id="c66" transform="translate(1274,2115)"><use href="#N"/><use href="#P1" class="pc"/><text class="p" x="117.5" y="13">4</text><use href="#P2" class="pc"/><text class="p" x="117.5" y="48">3</text><text x="9" y="14.5">Дубровин Д. Е.</text><text class="g" x="9" y="23">R:743</text><text class="g" x="9" y="34">R:717</text><text class="w" x="9" y="45">Коровиченко В...</text><text class="s" x="63.5" y="32">1:3</text><text class="m" x="104.5" y="30">66</text></g>
<g id="a89" transform="translate(49,2420)"><use href="#N"/><use href="#S1"/><text class="k" x="-17.5" y="14.8">-38</text><use href="#S2"/><text class="k" x="-17.5" y="45">-39</text><text x="9" y="14.5">Колесник Е. А.</text><text class="g" x="9" y="23">R:50</text><text class="g" x="9" y="34">R:441</text><text class="w" x="9" y="45">Бобров А. А.</text><text class="s" x="63.5" y="32">1:3</text><text class="m" x="104.5" y="30">89</text><text class="l" x="121" y="35.5">-97</text></g>
<g id="a90" transform="translate(49,2480)"><use href="#N"/><use href="#S1"/><text class="k" x="-17.5" y="14.8">-40</text><use href="#S2"/><text class="k" x="-17.5" y="45">-41</text><text x="9" y="14.5">Услов А. В.</text><text class="g" x="9" y="23">R:470</text><text class="g" x="9" y="34">R:540</text><text class="w" x="9" y="45">Сиренко О. А.</text><text class="s" x="63.5" y="32">1:3</text><text class="m" x="104.5" y="30">90</text><text class="l" x="121" y="22.5">-97</text></g>
<g id="a91" transform="translate(49,2540)"><use href="#N"/><use href="#S1"/><text class="k" x="-17.5" y="14.8">-42</text><use href="#S2"/><text class="k" x="-17.5" y="45">-43</text><text class="w" x="9" y="14.5">Бандурко А. С.</text><text class="g" x="9" y="23">R:487</text><text class="g" x="9" y="34">R:372</text><text x="9" y="45">Ле Т. К.</text><text class="s" x="63.5" y="32">3:0</text><text class="m" x="104.5" y="30">91</text><text class="l" x="121" y="35.5">-98</text></g>
<g id="a92" transform="translate(49,2600)"><use href="#N"/><use href="#S1"/><text class="k" x="-17.5" y="14.8">-44</text><use href="#S2"/><text class="k" x="-17.5" y="45">-45</text><text class="w" x="9" y="14.5">Самойлюк Г. Д.</text><text class="g" x="9" y="23">R:416</text><text class="g" x="9" y="34">R:563</text><text x="9" y="45">Захарова Д. С.</text><text class="s" x="63.5" y="32">Тех</text><text class="m" x="104.5" y="30">92</text><text class="l" x="121" y="22.5">-98</text></g>
<g id="a93" transform="translate(224,2450)"><use href="#N"/><text class="w" x="9" y="14.5">Бобров А. А.</text><text class="g" x="9" y="23">R:441</text><text class="g" x="9" y="34">R:540</text><text x="9" y="45">Сиренко О. А.</text><text class="s" x="63.5" y="32">3:2</text><text class="m" x="104.5" y="30">93</text><text class="l" x="121" y="35.5">-96</text></g>
<g id="a94" transform="translate(224,2570)"><use href="#N"/><text class="w" x="9" y="14.5">Бандурко А. С.</text><text class="g" x="9" y="23">R:487</text><text class="g" x="9" y="34">R:416</text><text x="9" y="45">Самойлюк Г. Д.</text><text class="s" x="63.5" y="32">3:1</text><text class="m" x="104.5" y="30">94</text><text class="l" x="121" y="22.5">-96</text></g>
<g id="a95" transform="translate(399,2510)"><use href="#N"/><use href="#P1" class="py"/><text class="p" x="117.5" y="13">26</text><use href="#P2" class="py"/><text class="p" x="117.5" y="48">25</text><text x="9" y="14.5">Бобров А. А.</text><text class="g" x="9" y="23">R:441</text><text class="g" x="9" y="34">R:487</text><text class="w" x="9" y="45">Бандурко А. С.</text><text class="s" x="63.5" y="32">2:3</text><text class="m" x="104.5" y="30">95</text></g>
<g id="b77" transform="translate(574,2420)"><use href="#N"/><use href="#S1"/><text class="k" x="-17.5" y="14.8">-46</text><use href="#S2"/><text class="k" x="-17.5" y="45">-47</text><text class="w" x="9" y="14.5">Симоненко Я. А.</text><text class="g" x="9" y="23">R:554</text><text class="g" x="9" y="34">R:409</text><text x="9" y="45">Киселарь П. А.</text><text class="s" x="63.5" y="32">3:1</text><text class="m" x="104.5" y="30">77</text><text class="l" x="121" y="35.5">-85</text></g>
<g id="b78" transform="translate(574,2480)"><use href="#N"/><use href="#S1"/><text class="k" x="-17.5" y="14.8">-48</text><use href="#S2"/><text class="k" x="-17.5" y="45">-49</text><text x="9" y="14.5">Киселарь А. Г.</text><text class="g" x="9" y="23">R:379</text><text class="g" x="9" y="34">R:640</text><text class="w" x="9" y="45">Ахламов С. В.</text><text class="s" x="63.5" y="32">0:3</text><text class="m" x="104.5" y="30">78</text><text class="l" x="121" y="22.5">-85</text></g>
<g id="b79" transform="translate(574,2540)"><use href="#N"/><use href="#S1"/><text class="k" x="-17.5" y="14.8">-50</text><use href="#S2"/><text class="k" x="-17.5" y="45">-51</text><text x="9" y="14.5">Мороз С. В.</text><text class="g" x="9" y="23">R:364</text><text class="g" x="9" y="34">R:478</text><text class="w" x="9" y="45">Евтодий Д. В.</text><text class="s" x="63.5" y="32">1:3</text><text class="m" x="104.5" y="30">79</text><text class="l" x="121" y="35.5">-86</text></g>
<g id="b80" transform="translate(574,2600)"><use href="#N"/><use href="#S1"/><text class="k" x="-17.5" y="14.8">-52</text><use href="#S2"/><text class="k" x="-17.5" y="45">-53</text><text class="w" x="9" y="14.5">Кизян В. Е.</text><text class="g" x="9" y="23">R:429</text><text class="g" x="9" y="34">R:296</text><text x="9" y="45">Бугеря И. В.</text><text class="s" x="63.5" y="32">3:1</text><text class="m" x="104.5" y="30">80</text><text class="l" x="121" y="22.5">-86</text></g>
<g id="b81" transform="translate(749,2450)"><use href="#N"/><text x="9" y="14.5">Симоненко Я. А.</text><text class="g" x="9" y="23">R:554</text><text class="g" x="9" y="34">R:640</text><text class="w" x="9" y="45">Ахламов С. В.</text><text class="s" x="63.5" y="32">1:3</text><text class="m" x="104.5" y="30">81</text><text class="l" x="121" y="35.5">-84</text></g>
<g id="b82" transform="translate(749,2570)"><use href="#N"/><text x="9" y="14.5">Евтодий Д. В.</text><text class="g" x="9" y="23">R:478</text><text class="g" x="9" y="34">R:429</text><text class="w" x="9" y="45">Кизян В. Е.</text><text class="s" x="63.5" y="32">1:3</text><text class="m" x="104.5" y="30">82</text><text class="l" x="121" y="22.5">-84</text></g>
<g id="b83" transform="translate(924,2510)"><use href="#N"/><use href="#P1" class="py"/><text class="p" x="117.5" y="13">17</text><use href="#P2" class="py"/><text class="p" x="117.5" y="48">18</text><text class="w" x="9" y="14.5">Ахламов С. В.</text><text class="g" x="9" y="23">R:640</text><text class="g" x="9" y="34">R:429</text><text x="9" y="45">Кизян В. Е.</text><text class="s" x="63.5" y="32">3:1</text><text class="m" x="104.5" y="30">83</text></g>
<g id="s68" transform="translate(1099,2420)"><use href="#N"/><use href="#S1"/><text class="k" x="-17.5" y="14.8">-62</text><use href="#S2"/><text class="k" x="-17.5" y="45">-63</text><use href="#P1" class="py"/><text class="p" x="117.5" y="13">8</text><use href="#P2" class="py"/><text class="p" x="117.5" y="48">7</text><text x="9" y="14.5">Литвиненко Н....</text><text class="g" x="9" y="23">R:710</text><text class="g" x="9" y="34">R:741</text><text class="w" x="9" y="45">Стигарь Д. В.</text><text class="s" x="63.5" y="32">2:3</text><text class="m" x="104.5" y="30">68</text></g>
<g id="s67" transform="translate(1274,2420)"><use href="#N"/><use href="#S1"/><text class="k" x="-17.5" y="14.8">-64</text><use href="#S2"/><text class="k" x="-17.5" y="45">-65</text><use href="#P1" class="py"/><text class="p" x="117.5" y="13">6</text><use href="#P2" class="py"/><text class="p" x="117.5" y="48">5</text><text x="9" y="14.5">Дегтярев А. С.</text><text class="g" x="9" y="23">R:758</text><text class="g" x="9" y="34">R:691</text><text class="w" x="9" y="45">Котляр В. Е.</text><text class="s" x="63.5" y="32">Тех</text><text class="m" x="104.5" y="30">67</text></g>
<g id="s76" transform="translate(1099,2515)"><use href="#N"/><use href="#S1"/><text class="k" x="-17.5" y="14.8">-73</text><use href="#S2"/><text class="k" x="-17.5" y="45">-74</text><use href="#P1" class="py"/><text class="p" x="117.5" y="13">15</text><use href="#P2" class="py"/><text class="p" x="117.5" y="48">16</text><text class="w" x="9" y="14.5">Бугай А. А.</text><text class="g" x="9" y="23">R:683</text><text class="g" x="9" y="34">R:601</text><text x="9" y="45">Спиридонова А...</text><text class="s" x="63.5" y="32">Тех</text><text class="m" x="104.5" y="30">76</text></g>
<g id="s72" transform="translate(1274,2515)"><use href="#N"/><use href="#S1"/><text class="k" x="-17.5" y="14.8">-69</text><use href="#S2"/><text class="k" x="-17.5" y="45">-70</text><use href="#P1" class="py"/><text class="p" x="117.5" y="13">12</text><use href="#P2" class="py"/><text class="p" x="117.5" y="48">11</text><text x="9" y="14.5">Сомова Е. Д.</text><text class="g" x="9" y="23">R:601</text><text class="g" x="9" y="34">R:605</text><text class="w" x="9" y="45">Ефименко С. А.</text><text class="s" x="63.5" y="32">Тех</text><text class="m" x="104.5" y="30">72</text></g>
<g id="r97" transform="translate(49,2695)"><use href="#N"/><use href="#S1"/><text class="k" x="-17.5" y="14.8">-89</text><use href="#S2"/><text class="k" x="-17.5" y="45">-90</text><text x="9" y="14.5">Колесник Е. А.</text><text class="g" x="9" y="23">R:50</text><text class="g" x="9" y="34">R:470</text><text class="w" x="9" y="45">Услов А. В.</text><text class="s" x="63.5" y="32">0:3</text><text class="m" x="104.5" y="30">97</text><text class="l" x="121" y="35.5">-100</text></g>
<g id="r98" transform="translate(49,2755)"><use href="#N"/><use href="#S1"/><text class="k" x="-17.5" y="14.8">-91</text><use href="#S2"/><text class="k" x="-17.5" y="45">-92</text><text class="w" x="9" y="14.5">Ле Т. К.</text><text class="g" x="9" y="23">R:372</text><text class="g" x="9" y="34">R:563</text><text x="9" y="45">Захарова Д. С.</text><text class="s" x="63.5" y="32">Тех</text><text class="m" x="104.5" y="30">98</text><text class="l" x="121" y="22.5">-100</text></g>
<g id="r99" transform="translate(224,2725)"><use href="#N"/><use href="#P1" class="py"/><text class="p" x="117.5" y="13">30</text><use href="#P2" class="py"/><text class="p" x="117.5" y="48">29</text><text x="9" y="14.5">Услов А. В.</text><text class="g" x="9" y="23">R:470</text><text class="g" x="9" y="34">R:372</text><text class="w" x="9" y="45">Ле Т. К.</text><text class="s" x="63.5" y="32">1:3</text><text class="m" x="104.5" y="30">99</text></g>
<g id="r85" transform="translate(399,2695)"><use href="#N"/><use href="#S1"/><text class="k" x="-17.5" y="14.8">-77</text><use href="#S2"/><text class="k" x="-17.5" y="45">-78</text><text class="w" x="9" y="14.5">Киселарь П. А.</text><text class="g" x="9" y="23">R:409</text><text class="g" x="9" y="34">R:379</text><text x="9" y="45">Киселарь А. Г.</text><text class="s" x="63.5" y="32">3:1</text><text class="m" x="104.5" y="30">85</text><text class="l" x="121" y="35.5">-88</text></g>
<g id="r86" transform="translate(399,2755)"><use href="#N"/><use href="#S1"/><text class="k" x="-17.5" y="14.8">-79</text><use href="#S2"/><text class="k" x="-17.5" y="45">-80</text><text class="w" x="9" y="14.5">Мороз С. В.</text><text class="g" x="9" y="23">R:364</text><text class="g" x="9" y="34">R:296</text><text x="9" y="45">Бугеря И. В.</text><text class="s" x="63.5" y="32">3:0</text><text class="m" x="104.5" y="30">86</text><text class="l" x="121" y="22.5">-88</text></g>
<g id="r87" transform="translate(574,2725)"><use href="#N"/><use href="#P1" class="py"/><text class="p" x="117.5" y="13">21</text><use href="#P2" class="py"/><text class="p" x="117.5" y="48">22</text><text class="w" x="9" y="14.5">Киселарь П. А.</text><text class="g" x="9" y="23">R:409</text><text class="g" x="9" y="34">R:364</text><text x="9" y="45">Мороз С. В.</text><text class="s" x="63.5" y="32">3:2</text><text class="m" x="104.5" y="30">87</text></g>
<g id="r73" transform="translate(749,2695)"><use href="#N"/><use href="#S1"/><text class="k" x="-17.5" y="14.8">-54</text><use href="#S2"/><text class="k" x="-17.5" y="45">-55</text><text x="9" y="14.5">Бугай А. А.</text><text class="g" x="9" y="23">R:683</text><text class="g" x="9" y="34">R:650</text><text class="w" x="9" y="45">Оглода Р. Л.</text><text class="s" x="63.5" y="32">0:3</text><text class="m" x="104.5" y="30">73</text><text class="l" x="121" y="35.5">-76</text></g>
<g id="r74" transform="translate(749,2755)"><use href="#N"/><use href="#S1"/><text class="k" x="-17.5" y="14.8">-56</text><use href="#S2"/><text class="k" x="-17.5" y="45">-57</text><text class="w" x="9" y="14.5">Лотоха С. В.</text><text class="g" x="9" y="23">R:666</text><text class="g" x="9" y="34">R:601</text><text x="9" y="45">Спиридонова А...</text><text class="s" x="63.5" y="32">Тех</text><text class="m" x="104.5" y="30">74</text><text class="l" x="121" y="22.5">-76</text></g>
<g id="r75" transform="translate(924,2725)"><use href="#N"/><use href="#P1" class="py"/><text class="p" x="117.5" y="13">13</text><use href="#P2" class="py"/><text class="p" x="117.5" y="48">14</text><text class="w" x="9" y="14.5">Оглода Р. Л.</text><text class="g" x="9" y="23">R:650</text><text class="g" x="9" y="34">R:666</text><text x="9" y="45">Лотоха С. В.</text><text class="s" x="63.5" y="32">3:1</text><text class="m" x="104.5" y="30">75</text></g>
<g id="r69" transform="translate(1099,2695)"><use href="#N"/><use href="#S1"/><text class="k" x="-17.5" y="14.8">-58</text><use href="#S2"/><text class="k" x="-17.5" y="45">-59</text><text x="9" y="14.5">Сомова Е. Д.</text><text class="g" x="9" y="23">R:601</text><text class="g" x="9" y="34">R:647</text><text class="w" x="9" y="45">Лавренюк Е.А.</text><text class="s" x="63.5" y="32">Тех</text><text class="m" x="104.5" y="30">69</text><text class="l" x="121" y="35.5">-72</text></g>
<g id="r70" transform="translate(1099,2755)"><use href="#N"/><use href="#S1"/><text class="k" x="-17.5" y="14.8">-60</text><use href="#S2"/><text class="k" x="-17.5" y="45">-61</text><text x="9" y="14.5">Ефименко С. А.</text><text class="g" x="9" y="23">R:605</text><text class="g" x="9" y="34">R:667</text><text class="w" x="9" y="45">Мосейчук А. А.</text><text class="s" x="63.5" y="32">0:3</text><text class="m" x="104.5" y="30">70</text><text class="l" x="121" y="22.5">-72</text></g>
<g id="r71" transform="translate(1274,2725)"><use href="#N"/><use href="#P1" class="py"/><text class="p" x="117.5" y="13">10</text><use href="#P2" class="py"/><text class="p" x="117.5" y="48">9</text><text x="9" y="14.5">Лавренюк Е.А.</text><text class="g" x="9" y="23">R:647</text><text class="g" x="9" y="34">R:667</text><text class="w" x="9" y="45">Мосейчук А. А.</text><text class="s" x="63.5" y="32">1:3</text><text class="m" x="104.5" y="30">71</text></g>
<g id="t101" transform="translate(49,2850)"><use href="#N"/><use href="#S1"/><text class="k" x="-17.5" y="14.8">-36</text><use href="#S2"/><text class="k" x="-17.5" y="45">-37</text><use href="#P2" class="py"/><text class="p" x="117.5" y="48">35</text><text class="w" x="9" y="14.5">Рубан В. А.</text><text class="g" x="9" y="23">R:355</text><text class="g" x="9" y="34">R:101</text><text x="9" y="45">Поцурай В. А.</text><text class="s" x="63.5" y="32">3:0</text><text class="m" x="104.5" y="30">101</text></g>
<g id="t102" transform="translate(224,2850)"><use href="#N"/><use href="#S1"/><text class="k" x="-17.5" y="14.8">-35</text><use href="#P1" class="py"/><text class="p" x="117.5" y="13">34</text><use href="#P2" class="py"/><text class="p" x="117.5" y="48">33</text><text x="9" y="14.5">Макаренко В. В.</text><text class="g" x="9" y="23">R:98</text><text class="g" x="9" y="34">R:355</text><text class="w" x="9" y="45">Рубан В. А.</text><text class="s" x="63.5" y="32">0:3</text><text class="m" x="104.5" y="30">102</text></g>
<g id="t100" transform="translate(399,2850)"><use href="#N"/><use href="#S1"/><text class="k" x="-17.5" y="14.8">-97</text><use href="#S2"/><text class="k" x="-17.5" y="45">-98</text><use href="#P1" class="py"/><text class="p" x="117.5" y="13">31</text><use href="#P2" class="py"/><text class="p" x="117.5" y="48">32</text><text class="w" x="9" y="14.5">Колесник Е. А.</text><text class="g" x="9" y="23">R:50</text><text class="g" x="9" y="34">R:563</text><text x="9" y="45">Захарова Д. С.</text><text class="s" x="63.5" y="32">Тех</text><text class="m" x="104.5" y="30">100</text></g>
<g id="t96" transform="translate(574,2850)"><use href="#N"/><use href="#S1"/><text class="k" x="-17.5" y="14.8">-93</text><use href="#S2"/><text class="k" x="-17.5" y="45">-94</text><use href="#P1" class="py"/><text class="p" x="117.5" y="13">27</text><use href="#P2" class="py"/><text class="p" x="117.5" y="48">28</text><text class="w" x="9" y="14.5">Сиренко О. А.</text><text class="g" x="9" y="23">R:540</text><text class="g" x="9" y="34">R:416</text><text x="9" y="45">Самойлюк Г. Д.</text><text class="s" x="63.5" y="32">3:1</text><text class="m" x="104.5" y="30">96</text></g>
<g id="t88" transform="translate(749,2850)"><use href="#N"/><use href="#S1"/><text class="k" x="-17.5" y="14.8">-85</text><use href="#S2"/><text class="k" x="-17.5" y="45">-86</text><use href="#P1" class="py"/><text class="p" x="117.5" y="13">23</text><use href="#P2" class="py"/><text class="p" x="117.5" y="48">24</text><text class="w" x="9" y="14.5">Киселарь А. Г.</text><text class="g" x="9" y="23">R:379</text><text class="g" x="9" y="34">R:296</text><text x="9" y="45">Бугеря И. В.</text><text class="s" x="63.5" y="32">3:0</text><text class="m" x="104.5" y="30">88</text></g>
<g id="t84" transform="translate(924,2850)"><use href="#N"/><use href="#S1"/><text class="k" x="-17.5" y="14.8">-81</text><use href="#S2"/><text class="k" x="-17.5" y="45">-82</text><use href="#P1" class="py"/><text class="p" x="117.5" y="13">20</text><use href="#P2" class="py"/><text class="p" x="117.5" y="48">19</text><text x="9" y="14.5">Симоненко Я. А.</text><text class="g" x="9" y="23">R:554</text><text class="g" x="9" y="34">R:478</text><text class="w" x="9" y="45">Евтодий Д. В.</text><text class="s" x="63.5" y="32">Тех</text><text class="m" x="104.5" y="30">84</text></g>
</g>
</svg>
